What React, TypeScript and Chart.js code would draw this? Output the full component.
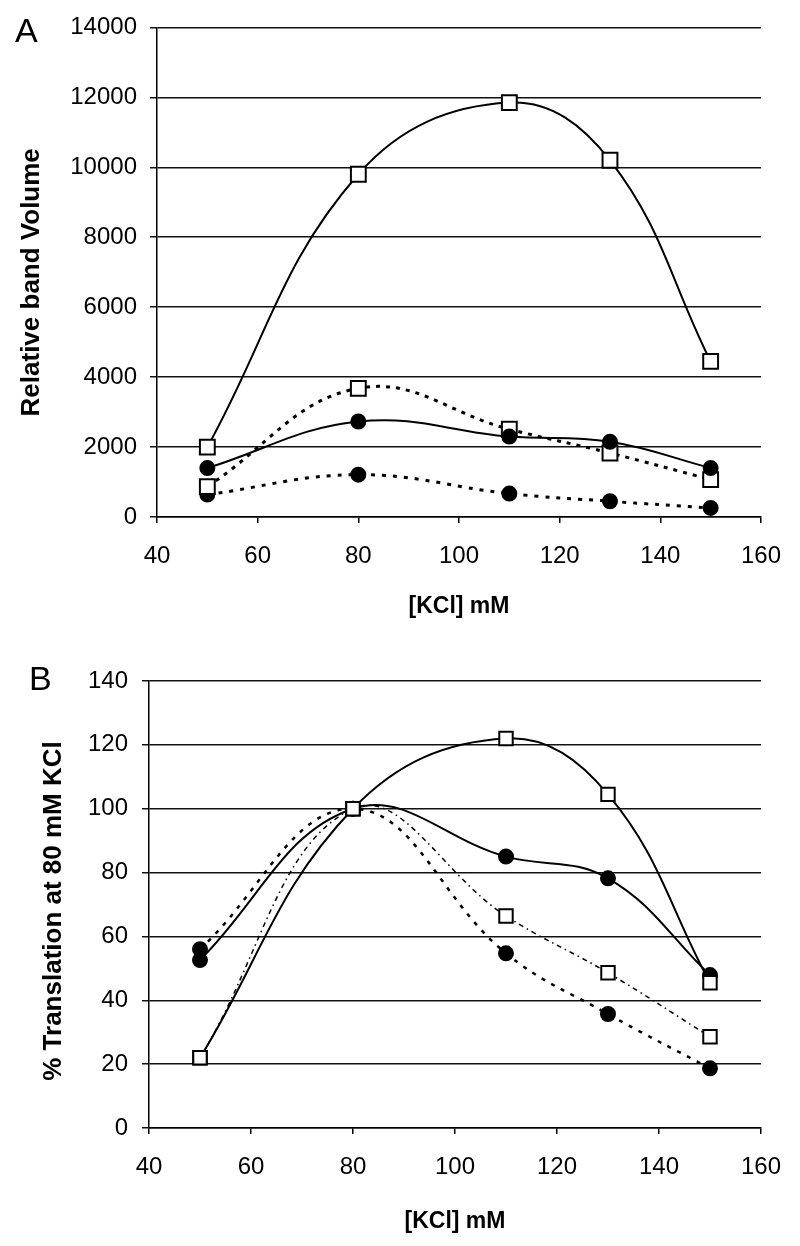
import React, { useEffect, useRef } from "react";
import { Chart, registerables } from "chart.js";

Chart.register(...registerables);

// ---------- data ----------
const kcl = [50, 80, 110, 130, 150];

// Panel A: relative band volume
const aSquaresSolid = [2000, 9800, 11850, 10200, 4450];
const aSquaresDotted = [870, 3680, 2510, 1830, 1070];
const aCirclesSolid = [1400, 2730, 2300, 2150, 1400];
const aCirclesDotted = [640, 1210, 670, 450, 260];

// Panel B: % translation at 80 mM KCl
const bSquaresSolid = [22, 100, 122, 104.5, 45.5];
const bCirclesSolid = [52.6, 100, 85, 78.2, 47.9];
const bSquaresDotted = [22, 100, 66.4, 48.6, 28.6];
const bCirclesDotted = [56, 100, 54.7, 35.7, 18.7];

const xTicks = [40, 60, 80, 100, 120, 140, 160];
const aYTicks = [0, 2000, 4000, 6000, 8000, 10000, 12000, 14000];
const bYTicks = [0, 20, 40, 60, 80, 100, 120, 140];

const xTitle = "[KCl] mM";
const aYTitle = "Relative band Volume";
const bYTitle = "% Translation at 80 mM KCl";

// ---------- helpers ----------
const FAMILY = "'Liberation Sans', Arial, Helvetica, sans-serif";

const pts = (vals: number[]) => vals.map((y, i) => ({ x: kcl[i], y }));

type DS = {
  vals: number[];
  square: boolean;
  dash: number[];
  width: number;
  radius: number;
};

function makeDataset(d: DS) {
  return {
    data: pts(d.vals),
    borderColor: "#000",
    borderWidth: d.width,
    borderDash: d.dash,
    tension: 0.4,
    fill: false,
    pointStyle: d.square ? "rect" : "circle",
    pointRadius: d.radius,
    pointBorderWidth: 2,
    pointBorderColor: "#000",
    pointBackgroundColor: d.square ? "#fff" : "#000",
    showLine: true,
  };
}

type Cfg = {
  datasets: DS[];
  yTicks: number[];
  yTitle: string;
  yWidth: number;
  yTitlePad: number;
  yLabelPad: number;
  xHeight: number;
  xTitlePad: number;
  padTop: number;
  padRight: number;
};

function buildConfig(c: Cfg): any {
  const tickFont = { family: FAMILY, size: 24, weight: "normal" as const };
  const titleFontY = { family: FAMILY, size: 26, weight: "bold" as const, lineHeight: 1.2 };
  const titleFontX = { family: FAMILY, size: 23, weight: "bold" as const, lineHeight: 1.2 };
  return {
    type: "line",
    data: { datasets: c.datasets.map(makeDataset) },
    options: {
      animation: false,
      responsive: false,
      maintainAspectRatio: false,
      events: [],
      layout: { padding: { top: c.padTop, right: c.padRight, bottom: 0, left: 0 } },
      plugins: { legend: { display: false }, tooltip: { enabled: false } },
      scales: {
        x: {
          type: "linear",
          min: xTicks[0],
          max: xTicks[xTicks.length - 1],
          afterBuildTicks: (s: any) => {
            s.ticks = xTicks.map((v) => ({ value: v }));
          },
          ticks: {
            color: "#000",
            font: tickFont,
            padding: 19,
            maxRotation: 0,
            autoSkip: false,
            callback: (v: any) => String(v),
          },
          grid: {
            display: true,
            drawOnChartArea: false,
            drawTicks: true,
            tickLength: 6,
            color: "#000",
            lineWidth: 1.5,
          },
          border: { display: true, color: "#000", width: 1.5 },
          title: {
            display: true,
            text: xTitle,
            color: "#000",
            font: titleFontX,
            padding: { top: 0, bottom: c.xTitlePad },
          },
          afterFit: (s: any) => {
            s.height = c.xHeight;
          },
        },
        y: {
          type: "linear",
          min: c.yTicks[0],
          max: c.yTicks[c.yTicks.length - 1],
          afterBuildTicks: (s: any) => {
            s.ticks = c.yTicks.map((v) => ({ value: v }));
          },
          ticks: {
            color: "#000",
            font: tickFont,
            padding: c.yLabelPad,
            callback: (v: any) => String(v),
          },
          grid: {
            display: true,
            drawOnChartArea: true,
            drawTicks: true,
            tickLength: 7,
            color: "#111",
            lineWidth: 1.5,
          },
          border: { display: true, color: "#000", width: 1.5 },
          title: {
            display: true,
            text: c.yTitle,
            color: "#000",
            font: titleFontY,
            padding: { top: c.yTitlePad, bottom: 0 },
          },
          afterFit: (s: any) => {
            s.width = c.yWidth;
          },
        },
      },
    },
  };
}

const cfgA: Cfg = {
  datasets: [
    { vals: aSquaresSolid, square: true, dash: [], width: 2, radius: 10.5 },
    { vals: aCirclesSolid, square: false, dash: [], width: 2, radius: 7 },
    { vals: aSquaresDotted, square: true, dash: [4, 6], width: 3, radius: 10.5 },
    { vals: aCirclesDotted, square: false, dash: [4, 7], width: 3, radius: 7 },
  ],
  yTicks: aYTicks,
  yTitle: aYTitle + "\u2002 ",
  yWidth: 157,
  yTitlePad: 16,
  yLabelPad: 13,
  xHeight: 113,
  xTitlePad: 9.5,
  padTop: 26,
  padRight: 38,
};

const cfgB: Cfg = {
  datasets: [
    { vals: bSquaresSolid, square: true, dash: [], width: 2, radius: 9.5 },
    { vals: bCirclesSolid, square: false, dash: [], width: 2, radius: 7 },
    { vals: bSquaresDotted, square: true, dash: [5, 4, 1.5, 4], width: 1.5, radius: 9.5 },
    { vals: bCirclesDotted, square: false, dash: [4, 7], width: 2.5, radius: 7 },
  ],
  yTicks: bYTicks,
  yTitle: bYTitle + "\u2002",
  yWidth: 149,
  yTitlePad: 38.5,
  yLabelPad: 14,
  xHeight: 118,
  xTitlePad: 10.5,
  padTop: 51,
  padRight: 37,
};

function Panel({ cfg, top, height }: { cfg: Cfg; top: number; height: number }) {
  const ref = useRef<HTMLCanvasElement | null>(null);
  useEffect(() => {
    if (!ref.current) return;
    const chart = new Chart(ref.current, buildConfig(cfg));
    return () => chart.destroy();
  }, [cfg]);
  return (
    <canvas
      ref={ref}
      width={800}
      height={height}
      style={{ position: "absolute", left: 0, top, width: 800, height, display: "block" }}
    />
  );
}

const letterStyle: React.CSSProperties = {
  position: "absolute",
  fontFamily: FAMILY,
  fontSize: 34,
  lineHeight: "34px",
  color: "#000",
  fontWeight: 400,
};

export default function App() {
  return (
    <div
      style={{
        position: "absolute",
        left: 0,
        top: 0,
        width: 800,
        height: 1246,
        background: "#fff",
        overflow: "hidden",
      }}
    >
      <Panel cfg={cfgA} top={0} height={630} />
      <Panel cfg={cfgB} top={630} height={616} />
      <div style={{ ...letterStyle, left: 15, top: 13 }}>A</div>
      <div style={{ ...letterStyle, left: 29, top: 661 }}>B</div>
    </div>
  );
}
